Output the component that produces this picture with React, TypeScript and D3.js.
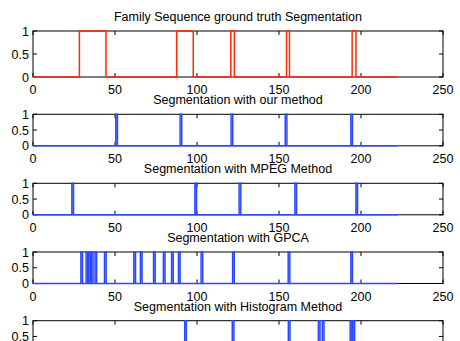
import * as d3 from 'd3';

// values
const xTicks = [0, 50, 100, 150, 200, 250];
const yTicks = [0, 0.5, 1];
const yTickLabels = ['0', '0.5', '1'];
const titles = [
  'Family Sequence ground truth Segmentation',
  'Segmentation with our method',
  'Segmentation with MPEG Method',
  'Segmentation with GPCA',
  'Segmentation with Histogram Method',
];
const signalLength = 222.5;
// ground truth: [start, end] of each segment at level 1
const truthPulses = [
  [28.3, 44.5],
  [87.6, 97.7],
  [120.6, 122.8],
  [154.6, 156.4],
  [194.6, 196.9],
];
// detected cuts (one-frame pulses)
const ourCuts = [51, 90.2, 121.3, 154.3, 194.3];
const mpegCuts = [24.2, 99.2, 126.2, 160.2, 197.4];
const gpcaCuts = [29.7, 32.9, 34.5, 36.1, 38.3, 44.1, 62, 66, 74, 80, 85, 89.2, 103, 122.2, 156.1, 194.3];
const histCuts = [93, 122, 156.2, 174.5, 176.9, 193.9, 195.6];

const RED = '#ff2a0a';
const BLUE = '#2a48ff';
const FONT = '"Liberation Sans", Arial, Helvetica, sans-serif';

function pulsesToPoints(pulses: number[][]): [number, number][] {
  const pts: [number, number][] = [[0, 0]];
  pulses.forEach(([s, e]) => {
    pts.push([s, 0], [s, 1], [e, 1], [e, 0]);
  });
  pts.push([signalLength, 0]);
  return pts;
}

const cutsToPulses = (cuts: number[]) => cuts.map((c) => [c - 0.5, c + 0.5]);

const panels = [
  { title: titles[0], pulses: truthPulses, color: RED, top: 31, height: 46 },
  { title: titles[1], pulses: cutsToPulses(ourCuts), color: BLUE, top: 114.3, height: 31.5 },
  { title: titles[2], pulses: cutsToPulses(mpegCuts), color: BLUE, top: 183.3, height: 31.5 },
  { title: titles[3], pulses: cutsToPulses(gpcaCuts), color: BLUE, top: 252, height: 31.5 },
  { title: titles[4], pulses: cutsToPulses(histCuts), color: BLUE, top: 320.7, height: 31.5 },
];

export default function App() {
  const width = 460;
  const height = 341;
  const x = d3.scaleLinear().domain([0, 250]).range([33, 443]);
  const tick = 4;

  return (
    <div style={{ position: 'absolute', left: 0, top: 0 }}>
      <svg width={width} height={height} style={{ display: 'block', background: '#fff' }}>
        {panels.map((p, i) => {
          const y = d3.scaleLinear().domain([0, 1]).range([p.top + p.height, p.top]);
          const line = d3
            .line<[number, number]>()
            .x((d) => x(d[0]))
            .y((d) => y(d[1]));
          const bottom = p.top + p.height;
          // labels that would fall below the window are left out (cut off in the reference)
          const showX = bottom + 17 < height;
          return (
            <g key={i} fontFamily={FONT} fontSize={12.5} fill="#000">
              <text x={(x(0) + x(250)) / 2} y={p.top - 10} textAnchor="middle">
                {p.title}
              </text>
              <rect
                x={x(0)}
                y={p.top}
                width={x(250) - x(0)}
                height={p.height}
                fill="none"
                stroke="#000"
                strokeWidth={1}
              />
              {xTicks.map((t) => (
                <g key={'x' + t}>
                  <line x1={x(t)} x2={x(t)} y1={bottom} y2={bottom - tick} stroke="#000" />
                  <line x1={x(t)} x2={x(t)} y1={p.top} y2={p.top + tick} stroke="#000" />
                  {showX && (
                    <text x={x(t)} y={bottom + 17} textAnchor="middle">
                      {t}
                    </text>
                  )}
                </g>
              ))}
              {yTicks.map((t, j) => (
                <g key={'y' + t}>
                  <line x1={x(0)} x2={x(0) + tick} y1={y(t)} y2={y(t)} stroke="#000" />
                  <line x1={x(250)} x2={x(250) - tick} y1={y(t)} y2={y(t)} stroke="#000" />
                  {y(t) + 4 < height && (
                    <text x={29} y={y(t)} dy="0.36em" textAnchor="end">
                      {yTickLabels[j]}
                    </text>
                  )}
                </g>
              ))}
              <path
                d={line(pulsesToPoints(p.pulses)) || ''}
                fill="none"
                stroke={p.color}
                strokeWidth={1.5}
              />
            </g>
          );
        })}
      </svg>
    </div>
  );
}
